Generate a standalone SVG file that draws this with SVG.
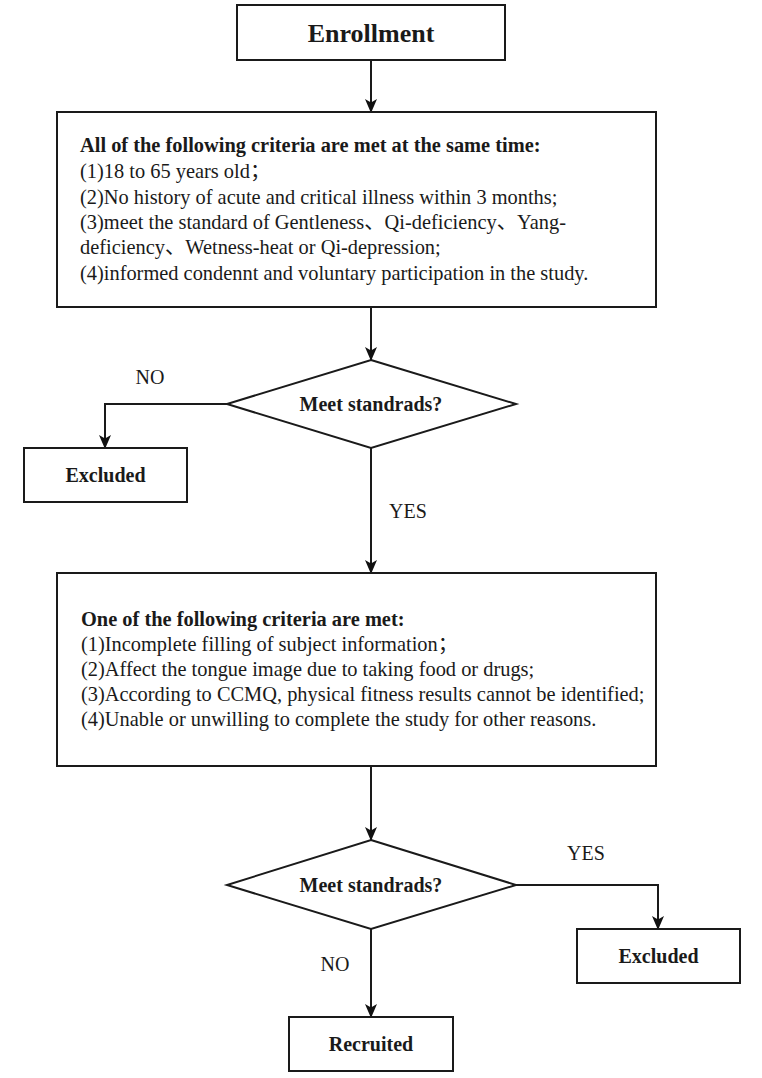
<svg xmlns="http://www.w3.org/2000/svg" width="762" height="1078" viewBox="0 0 762 1078">
  <defs>
    <marker id="arrow" viewBox="0 0 14 12" refX="13" refY="6" markerWidth="14" markerHeight="12" markerUnits="userSpaceOnUse" orient="auto">
      <path d="M0,0 L14,6 L0,12 L3.5,6 z" fill="#111"/>
    </marker>
  </defs>
  <style>
    .box { fill: #fff; stroke: #1a1a1a; stroke-width: 2; }
    .edge { fill: none; stroke: #1a1a1a; stroke-width: 2; marker-end: url(#arrow); }
    .t { font-family: "Liberation Serif", "Times New Roman", "Noto Sans CJK SC", serif; fill: #1a1a1a; }
    .b { font-weight: bold; }
    .body { font-size: 20.4px; }
    .lbl { font-size: 20px; }
    .c { text-anchor: middle; }
  </style>
  <rect width="762" height="1078" fill="#fff"/>

  <g id="connectors">
    <path class="edge" d="M371,60 V112"/>
    <path class="edge" d="M371,307 V360"/>
    <path class="edge" d="M227,404 H105 V448"/>
    <path class="edge" d="M371,448 V573"/>
    <path class="edge" d="M371,766 V840"/>
    <path class="edge" d="M516,885 H658 V929"/>
    <path class="edge" d="M371,929 V1017"/>
  </g>

  <g id="enrollment">
    <rect class="box" x="237" y="5" width="268" height="55"/>
    <text class="t b c" x="371" y="42" font-size="26">Enrollment</text>
  </g>

  <g id="inclusion">
    <rect class="box" x="57" y="112" width="599" height="195"/>
    <text class="t b body" x="80" y="152">All of the following criteria are met at the same time:</text>
    <text class="t body" x="80" y="178">(1)18 to 65 years old；</text>
    <text class="t body" x="80" y="203.5">(2)No history of acute and critical illness within 3 months;</text>
    <text class="t body" x="80" y="229">(3)meet the standard of Gentleness、Qi-deficiency、Yang-</text>
    <text class="t body" x="80" y="254">deficiency、Wetness-heat or Qi-depression;</text>
    <text class="t body" x="80" y="279.5">(4)informed condennt and voluntary participation in the study.</text>
  </g>

  <g id="decision1">
    <polygon class="box" points="371,360 516,404 371,448 227,404"/>
    <text class="t b c lbl" x="371" y="411">Meet standrads?</text>
  </g>

  <g id="excluded1">
    <rect class="box" x="24" y="448" width="163" height="54"/>
    <text class="t b c lbl" x="105.5" y="482">Excluded</text>
  </g>

  <g id="exclusion">
    <rect class="box" x="57" y="573" width="599" height="193"/>
    <text class="t b body" x="81" y="626">One of the following criteria are met:</text>
    <text class="t body" x="81" y="651">(1)Incomplete filling of subject information；</text>
    <text class="t body" x="81" y="676">(2)Affect the tongue image due to taking food or drugs;</text>
    <text class="t body" x="81" y="701">(3)According to CCMQ, physical fitness results cannot be identified;</text>
    <text class="t body" x="81" y="726">(4)Unable or unwilling to complete the study for other reasons.</text>
  </g>

  <g id="decision2">
    <polygon class="box" points="371,840 516,885 371,929 227,885"/>
    <text class="t b c lbl" x="371" y="892">Meet standrads?</text>
  </g>

  <g id="excluded2">
    <rect class="box" x="577" y="929" width="163" height="54"/>
    <text class="t b c lbl" x="658.5" y="963">Excluded</text>
  </g>

  <g id="recruited">
    <rect class="box" x="289" y="1017" width="164" height="54"/>
    <text class="t b c lbl" x="371" y="1051">Recruited</text>
  </g>

  <g id="labels">
    <text class="t c lbl" x="150" y="384">NO</text>
    <text class="t c lbl" x="408" y="518">YES</text>
    <text class="t c lbl" x="586" y="860">YES</text>
    <text class="t c lbl" x="335" y="971">NO</text>
  </g>
</svg>
